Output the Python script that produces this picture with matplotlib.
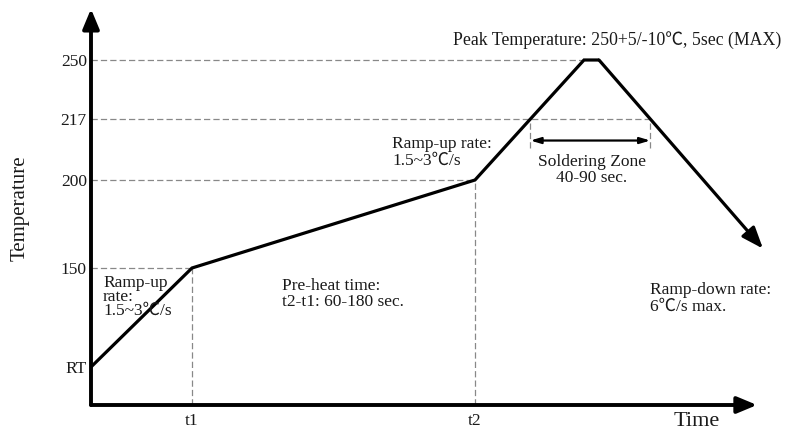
import numpy as np
import matplotlib
matplotlib.use("Agg")
import matplotlib.pyplot as plt

plt.rcParams['font.family'] = ['Liberation Serif', 'Noto Sans CJK SC', 'DejaVu Serif']

# schematic reflow profile (time in arbitrary units, temperature in deg C)
profile_time = [0, 101, 384, 493, 508, 672]
profile_temp = [25, 150, 200, 250, 250, 161]

tick_temps = [25, 150, 200, 217, 250]
tick_labels = ["RT", "150", "200", "217", "250"]
time_marks = [101, 384]
time_labels = ["t1", "t2"]

# the diagram's temperature axis is not linear: anchors -> drawing height
scale_temps = [0, 25, 150, 200, 217, 250, 280]
scale_heights = [0, 38, 137, 225, 286, 345, 393]


def fwd(t):
    return np.interp(t, scale_temps, scale_heights)


def inv(h):
    return np.interp(h, scale_heights, scale_temps)


W, H = 786, 432
fig = plt.figure(figsize=(W / 100, H / 100), dpi=100)
ax = fig.add_axes([91 / W, 27 / H, 672 / W, 393 / H])
ax.set_yscale('function', functions=(fwd, inv))
ax.set_xlim(0, 672)
ax.set_ylim(0, 280)
for s in ax.spines.values():
    s.set_visible(False)
ax.set_facecolor('none')

txt = '#1a1a1a'
dash = dict(color='#888888', lw=0.9, ls=(0, (5, 2.5)))

# axes with arrows
ax.annotate('', xy=(0, 1.008), xytext=(0, 0), xycoords='axes fraction',
            arrowprops=dict(arrowstyle='-|>,head_length=1.2,head_width=0.5', lw=2.8, color='black',
                            shrinkA=0, shrinkB=0), annotation_clip=False)
ax.annotate('', xy=(666, 0), xytext=(0, 0), xycoords='data',
            arrowprops=dict(arrowstyle='-|>,head_length=1.2,head_width=0.5', lw=2.8, color='black',
                            shrinkA=0, shrinkB=0), annotation_clip=False)

# ticks
ax.set_yticks(tick_temps)
ax.set_yticklabels(tick_labels)
ax.set_xticks(time_marks)
ax.set_xticklabels(time_labels)
ax.tick_params(length=0, labelsize=12.5, colors=txt, pad=3)
ax.tick_params(axis='x', pad=6)
ax.yaxis.set_minor_locator(matplotlib.ticker.NullLocator())

# soldering zone boundaries where the curve crosses 217
h217 = fwd(217)
z_start = np.interp(h217, [fwd(200), fwd(250)], [profile_time[2], profile_time[3]])
z_end = profile_time[4] + (fwd(250) - h217) / (fwd(250) - fwd(profile_temp[5])) * (profile_time[5] - profile_time[4])

# guide lines
ax.plot([0, profile_time[3]], [250, 250], **dash)
ax.plot([0, z_end], [217, 217], **dash)
ax.plot([0, profile_time[2]], [200, 200], **dash)
ax.plot([0, profile_time[1]], [150, 150], **dash)
ax.plot([profile_time[1], profile_time[1]], [0, 150], **dash)
ax.plot([profile_time[2], profile_time[2]], [0, 200], **dash)
ax.plot([z_start, z_start], [209, 217], **dash)
ax.plot([z_end, z_end], [209, 217], **dash)
ax.annotate('', xy=(z_end, 211), xytext=(z_start, 211),
            arrowprops=dict(arrowstyle='<|-|>,head_length=0.6,head_width=0.18', lw=1.6, color='black',
                            shrinkA=0, shrinkB=0))

# profile curve
ax.plot(profile_time[:5], profile_temp[:5], color='black', lw=2.3, solid_joinstyle='miter',
        solid_capstyle='butt', clip_on=False)
ax.annotate('', xy=(profile_time[5], profile_temp[5]), xytext=(profile_time[4], profile_temp[4]),
            arrowprops=dict(arrowstyle='-|>,head_length=1.3,head_width=0.5', lw=2.3, color='black',
                            shrinkA=0, shrinkB=0), annotation_clip=False)


def px(x, y):
    return x / W, 1 - y / H


fs = 12.5
fig.text(*px(20, 208), 'Temperature', rotation=90, ha='center', va='center', fontsize=15, color=txt)
fig.text(*px(697, 421), 'Time', ha='center', va='center', fontsize=16, color=txt)
fig.text(*px(453, 40), 'Peak Temperature: 250+5/-10\u2103, 5sec (MAX)', ha='left', va='center',
         fontsize=12.8, color=txt)
fig.text(*px(392, 152), 'Ramp-up rate:\n1.5~3\u2103/s', ha='left', va='center', fontsize=fs,
         color=txt, linespacing=1.05)
fig.text(*px(592, 170), 'Soldering Zone\n40-90 sec.', ha='center', va='center', fontsize=fs,
         color=txt, linespacing=1.05)
fig.text(*px(282, 294), 'Pre-heat time:\nt2-t1: 60-180 sec.', ha='left', va='center', fontsize=fs,
         color=txt, linespacing=1.05)
fig.text(*px(650, 298), 'Ramp-down rate:\n6\u2103/s max.', ha='left', va='center', fontsize=fs,
         color=txt, linespacing=1.05)
fig.text(*px(103, 297), 'Ramp-up\nrate:\n1.5~3\u2103/s', ha='left', va='center', fontsize=fs,
         color=txt, linespacing=0.85)

fig.savefig('out.png', dpi=100)
